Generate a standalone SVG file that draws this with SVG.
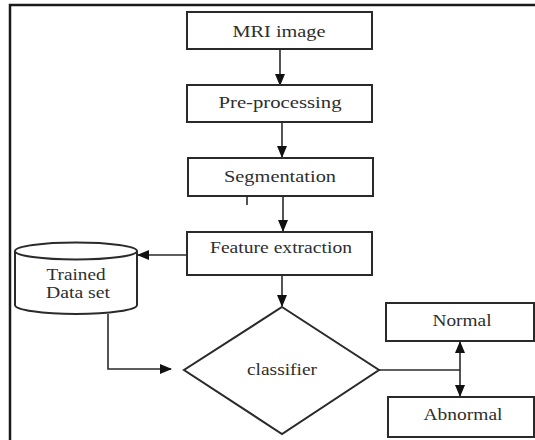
<svg xmlns="http://www.w3.org/2000/svg" width="535" height="440" viewBox="0 0 535 440">
<defs>
<marker id="ah" markerWidth="12" markerHeight="10" refX="11" refY="5" orient="auto" markerUnits="userSpaceOnUse">
<path d="M0,0 L12,5 L0,10 Z" fill="#111"/>
</marker>
<style>
.box{fill:#fff;stroke:#2a2a2a;stroke-width:2}
.lbl{font-family:'Liberation Serif','DejaVu Serif','Times New Roman',serif;font-size:17px;fill:#2e2e2e;text-anchor:middle}
.con{fill:none;stroke:#2a2a2a;stroke-width:1.6}
</style>
</defs>
<rect width="535" height="440" fill="#fff"/>
<path d="M10,440 V5 H535" fill="none" stroke="#1a1a1a" stroke-width="2.5"/>
<g id="connectors">
<line class="con" x1="280" y1="49" x2="280" y2="85" marker-end="url(#ah)"/>
<line class="con" x1="282" y1="122" x2="282" y2="157" marker-end="url(#ah)"/>
<line class="con" x1="283" y1="196" x2="283" y2="231" marker-end="url(#ah)"/>
<line class="con" x1="187" y1="255" x2="138" y2="255" marker-end="url(#ah)"/>
<line class="con" x1="282" y1="275" x2="282" y2="306" marker-end="url(#ah)"/>
<polyline class="con" points="108,314 108,369 171,369" marker-end="url(#ah)"/>
<line class="con" x1="379" y1="370" x2="460" y2="370"/>
<line class="con" x1="460" y1="370" x2="460" y2="342" marker-end="url(#ah)"/>
<line class="con" x1="460" y1="370" x2="460" y2="396" marker-end="url(#ah)"/>
<line class="con" x1="247" y1="188" x2="247" y2="205" stroke-width="1"/>
</g>
<g id="mri">
<rect class="box" x="187" y="12" width="185" height="37"/>
<text class="lbl" x="279" y="36.5" textLength="93" lengthAdjust="spacingAndGlyphs">MRI image</text>
</g>
<g id="preprocessing">
<rect class="box" x="187" y="85" width="185" height="37"/>
<text class="lbl" x="280" y="108" textLength="123" lengthAdjust="spacingAndGlyphs">Pre-processing</text>
</g>
<g id="segmentation">
<rect class="box" x="188" y="158" width="185" height="38"/>
<text class="lbl" x="280" y="182" textLength="112" lengthAdjust="spacingAndGlyphs">Segmentation</text>
</g>
<g id="feature">
<rect class="box" x="187" y="232" width="185" height="43"/>
<text class="lbl" x="281" y="253" textLength="142" lengthAdjust="spacingAndGlyphs">Feature extraction</text>
</g>
<g id="dataset">
<path class="box" d="M15,251 V305 A61,9 0 0 0 137,305 V251"/>
<ellipse class="box" cx="76" cy="251" rx="61" ry="8.5"/>
<text class="lbl" x="76" y="280" textLength="59" lengthAdjust="spacingAndGlyphs">Trained</text>
<text class="lbl" x="78" y="298" textLength="64" lengthAdjust="spacingAndGlyphs">Data set</text>
</g>
<g id="classifier">
<polygon class="box" points="282,307 379,370 282,434 184,370"/>
<text class="lbl" x="282" y="375" textLength="70" lengthAdjust="spacingAndGlyphs">classifier</text>
</g>
<g id="normal">
<rect class="box" x="386" y="303" width="148" height="38"/>
<text class="lbl" x="462" y="326" textLength="59" lengthAdjust="spacingAndGlyphs">Normal</text>
</g>
<g id="abnormal">
<rect class="box" x="388" y="397" width="146" height="40"/>
<text class="lbl" x="463" y="420" textLength="79" lengthAdjust="spacingAndGlyphs">Abnormal</text>
</g>
</svg>
